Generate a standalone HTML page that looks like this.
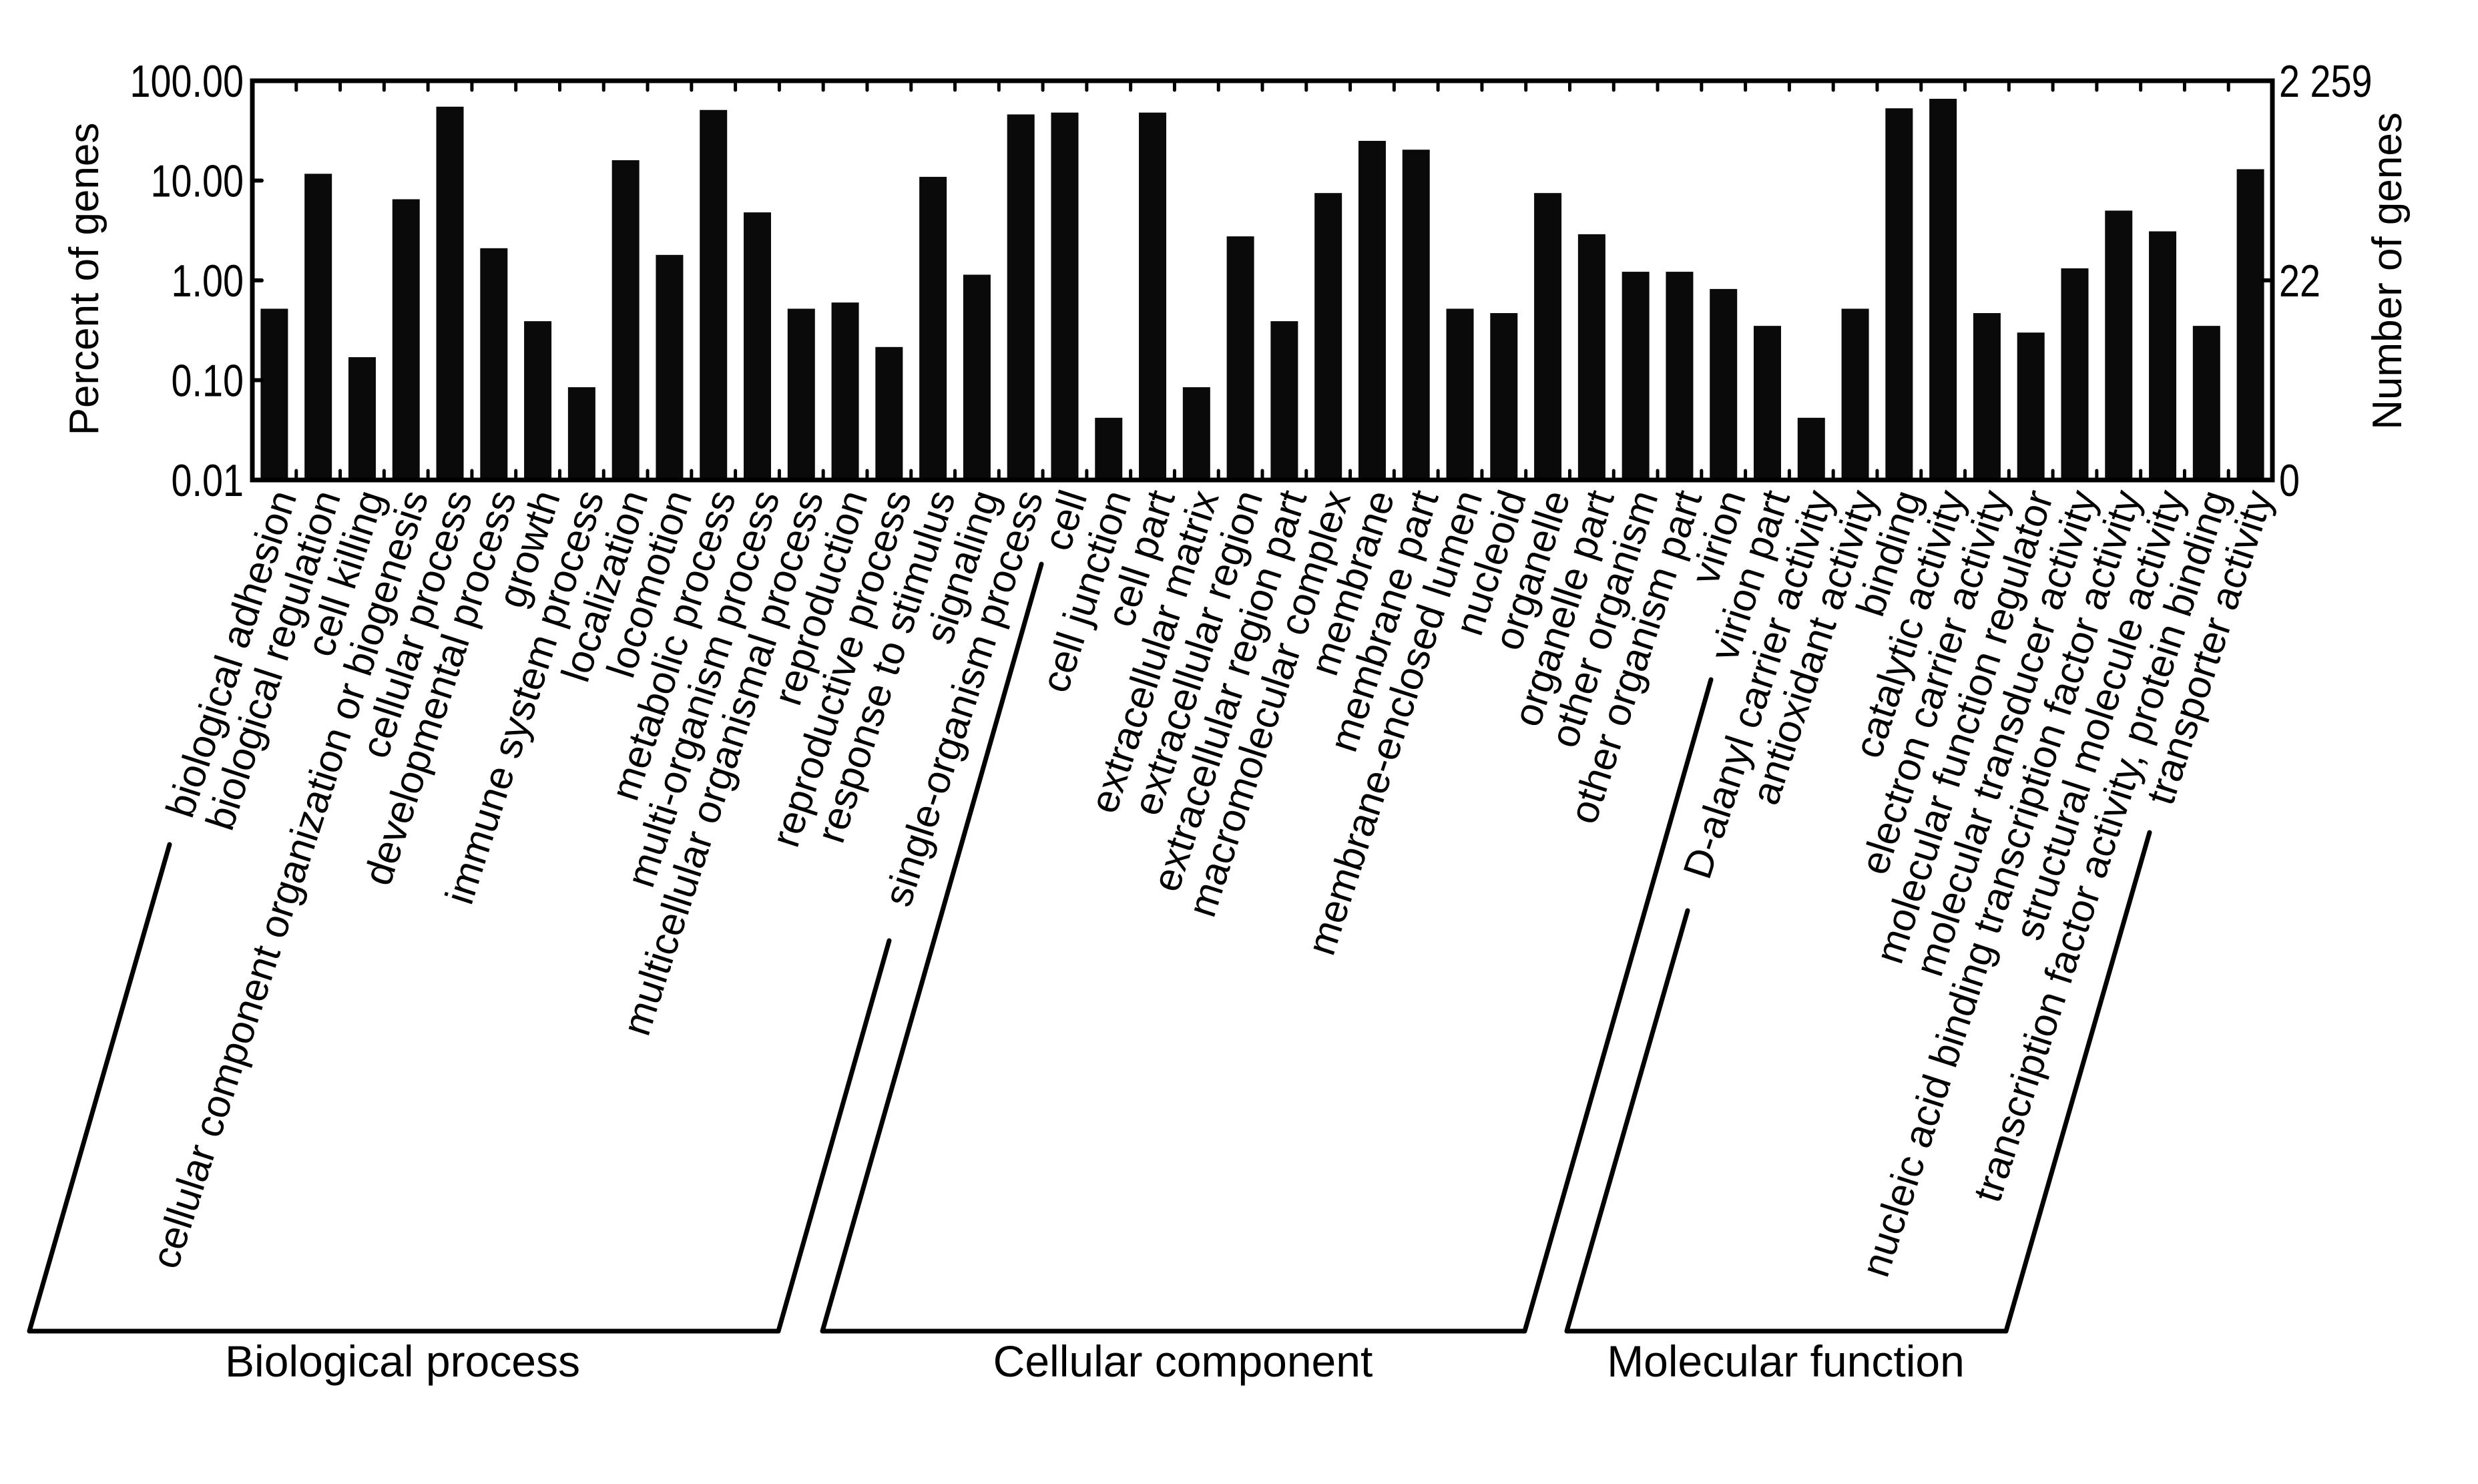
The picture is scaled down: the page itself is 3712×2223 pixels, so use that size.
<!DOCTYPE html>
<html><head><meta charset="utf-8"><style>
html,body{margin:0;padding:0;background:#fff;}
svg{display:block;font-family:"Liberation Sans",Arial,sans-serif;}
</style></head><body>
<svg id="chart" width="3712" height="2223" viewBox="0 0 3712 2223" xmlns="http://www.w3.org/2000/svg">
<rect width="3712" height="2223" fill="#fff"/>
<g id="bars"></g>
<g id="xlabels"></g>
<g id="axes"></g>
<text transform="translate(147,418) rotate(-90)" text-anchor="middle" font-size="62">Percent of genes</text>
<text transform="translate(3597,406) rotate(-90)" text-anchor="middle" font-size="62">Number of genes</text>
<g fill="none" stroke="#000" stroke-width="7" stroke-linecap="round" stroke-linejoin="round">
<polyline points="254,1265 44,1994 1166,1994 1332,1409"/>
<polyline points="1560,845 1232,1994 2284,1994 2563,1018"/>
<polyline points="2528,1364 2347,1994 3005,1994 3220,1247"/>
</g>
<text x="603" y="2062" text-anchor="middle" font-size="66">Biological process</text>
<text x="1772" y="2062" text-anchor="middle" font-size="66">Cellular component</text>
<text x="2675" y="2062" text-anchor="middle" font-size="66">Molecular function</text>
<script>
const categories = ["biological adhesion","biological regulation","cell killing","cellular component organization or biogenesis","cellular process","developmental process","growth","immune system process","localization","locomotion","metabolic process","multi-organism process","multicellular organismal process","reproduction","reproductive process","response to stimulus","signaling","single-organism process","cell","cell junction","cell part","extracellular matrix","extracellular region","extracellular region part","macromolecular complex","membrane","membrane part","membrane-enclosed lumen","nucleoid","organelle","organelle part","other organism","other organism part","virion","virion part","D-alanyl carrier activity","antioxidant activity","binding","catalytic activity","electron carrier activity","molecular function regulator","molecular transducer activity","nucleic acid binding transcription factor activity","structural molecule activity","transcription factor activity, protein binding","transporter activity"];
const percentValues = [0.52,11.7,0.17,6.5,55,2.1,0.39,0.085,16,1.8,51,4.8,0.52,0.6,0.215,10.9,1.14,46,48,0.042,48,0.085,2.76,0.39,7.5,25,20.4,0.52,0.47,7.5,2.9,1.22,1.22,0.82,0.35,0.042,0.52,53,66,0.47,0.30,1.32,5.0,3.1,0.35,13];
const leftTickValues = [100,10,1,0.1,0.01];
const leftTickLabels = ["100.00","10.00","1.00","0.10","0.01"];
const rightTickValues = [100,1,0.01];
const rightTickLabels = ["2 259","22","0"];

const NS = "http://www.w3.org/2000/svg";
const X0 = 378, X1 = 3404, YTOP = 121, YBOT = 719;
const band = (X1 - X0) / categories.length;
function xCenter(i){ return X0 + band * (i + 0.5); }
function yScale(v){ return 420 - 149.5 * Math.log10(v); }
function mk(tag, attrs, parent){ const e = document.createElementNS(NS, tag); for (const k in attrs) e.setAttribute(k, attrs[k]); parent.appendChild(e); return e; }

const gb = document.getElementById('bars');
const gl = document.getElementById('xlabels');
const ga = document.getElementById('axes');
const bw = 41;
percentValues.forEach((v, i) => {
  const y = yScale(v);
  const r = mk('rect', {x: xCenter(i) - bw/2, y: y, width: bw, height: YBOT - y, fill: '#0a0a0a'}, gb);
  
  
});
categories.forEach((c, i) => {
  const t = mk('text', {transform: 'translate(' + (xCenter(i) + 34) + ',743) rotate(-72)', 'text-anchor': 'end', 'font-size': 60}, gl);
  t.textContent = c;
  
  
});
const frame = mk('rect', {x: X0, y: YTOP, width: X1 - X0, height: YBOT - YTOP, fill: 'none', stroke: '#000', 'stroke-width': 7}, ga);


for (let k = 1; k < categories.length; k++) {
  const x = X0 + band * k;
  const t1 = mk('line', {x1: x, x2: x, y1: YTOP, y2: YTOP + 14, stroke: '#000', 'stroke-width': 5, 'stroke-linecap': 'round'}, ga);
  
  
  const t2 = mk('line', {x1: x, x2: x, y1: YBOT, y2: YBOT - 14, stroke: '#000', 'stroke-width': 5, 'stroke-linecap': 'round'}, ga);
  
  
}
leftTickValues.forEach((v, i) => {
  const y = yScale(v);
  const tk = mk('line', {x1: X0, x2: X0 + 14, y1: y, y2: y, stroke: '#000', 'stroke-width': 6, 'stroke-linecap': 'round'}, ga);
  
  
  const t = mk('text', {transform: 'translate(365,' + (y + 24) + ') scale(0.82,1)', 'text-anchor': 'end', 'font-size': 68}, ga);
  t.textContent = leftTickLabels[i];
  
  
});
rightTickValues.forEach((v, i) => {
  const y = yScale(v);
  const tk = mk('line', {x1: X1, x2: X1 - 14, y1: y, y2: y, stroke: '#000', 'stroke-width': 6, 'stroke-linecap': 'round'}, ga);
  
  
  const t = mk('text', {transform: 'translate(3414,' + (y + 24) + ') scale(0.82,1)', 'text-anchor': 'start', 'font-size': 68}, ga);
  t.textContent = rightTickLabels[i];
  
  
});
</script>
</svg>
</body></html>
